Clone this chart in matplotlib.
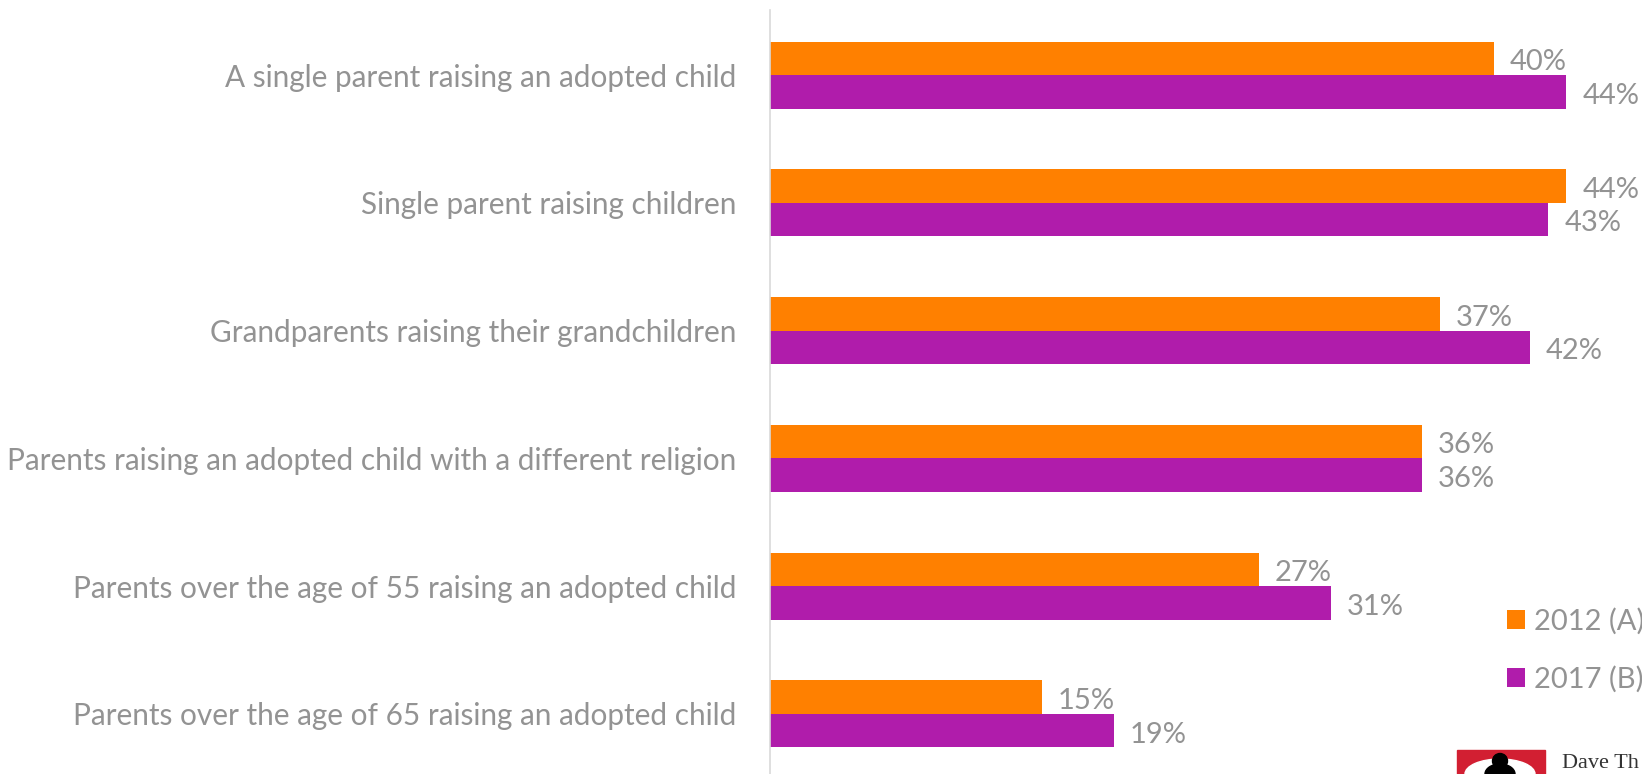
import numpy as np
import matplotlib
matplotlib.use("Agg")
import matplotlib.pyplot as plt
from matplotlib.patches import Rectangle, Ellipse

categories = [
    "A single parent raising an adopted child",
    "Single parent raising children",
    "Grandparents raising their grandchildren",
    "Parents raising an adopted child with a different religion",
    "Parents over the age of 55 raising an adopted child",
    "Parents over the age of 65 raising an adopted child",
]
vals_2012 = [40, 44, 37, 36, 27, 15]
vals_2017 = [44, 43, 42, 36, 31, 19]
series_names = ["2012 (A)", "2017 (B)"]

orange = "#FF8000"
purple = "#B01CAB"
grey = "#939393"

plt.rcParams["font.family"] = ["Lato", "DejaVu Sans"]

fig = plt.figure(figsize=(16.42, 7.74), dpi=100)
ax = fig.add_axes([770 / 1642, 0, 1 - 770 / 1642, 1 - 10.5 / 774])

y = np.arange(len(categories))
h = 0.262
b1 = ax.barh(y - h / 2, vals_2012, height=h, color=orange, label=series_names[0])
b2 = ax.barh(y + h / 2, vals_2017, height=h, color=purple, label=series_names[1])

for bars, vals in [(b1, vals_2012), (b2, vals_2017)]:
    for bar, v in zip(bars, vals):
        ax.text(v + 0.88, bar.get_y() + bar.get_height() / 2 + 0.03, f"{v}%",
                va="center", ha="left", fontsize=21, color=grey)

ax.set_xlim(0, 872 / 18.1)
ax.set_ylim(5.47, -0.505)
ax.set_yticks(y)
ax.set_yticklabels(categories, fontsize=21.4, color=grey)
ax.tick_params(axis="y", length=0, pad=24)
ax.set_xticks([])
for s in ["top", "right", "bottom"]:
    ax.spines[s].set_visible(False)
ax.spines["left"].set_color("#D9D9D9")
ax.spines["left"].set_linewidth(1.2)

leg = ax.legend(loc="upper left", bbox_to_anchor=(1507 / 1642, 166 / 774),
                bbox_transform=fig.transFigure, frameon=False, fontsize=21,
                handlelength=0.62, handleheight=0.62, handletextpad=0.3,
                labelspacing=1.05, labelcolor=grey, borderaxespad=0,
                borderpad=0)

# logo fragment at bottom right
fig.patches.append(Rectangle((1457 / 1642, 0), 88 / 1642, 24 / 774,
                             transform=fig.transFigure, color="#D21F32"))
fig.patches.append(Ellipse((1500 / 1642, 0), 70 / 1642, 30 / 774,
                           transform=fig.transFigure, color="white"))
fig.patches.append(Ellipse((1500 / 1642, 0), 30 / 1642, 20 / 774,
                           transform=fig.transFigure, color="black"))
fig.patches.append(Ellipse((1500 / 1642, 13 / 774), 15 / 1642, 15 / 774,
                           transform=fig.transFigure, color="black"))
fig.text(1562 / 1642, 10 / 774, "Dave Th", fontsize=16, family="Liberation Serif",
         color="#333333", va="center", ha="left")

fig.savefig("out.png", dpi=100)
